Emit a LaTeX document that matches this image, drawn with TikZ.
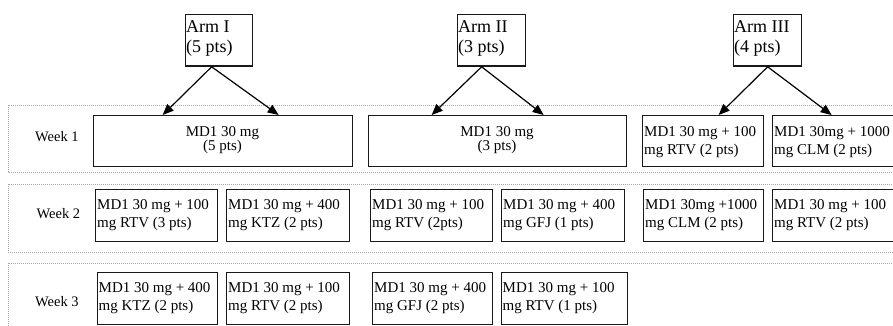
\documentclass[tikz,border=0pt]{standalone}
\usepackage{fontspec}
\setmainfont{Liberation Serif}
\usetikzlibrary{arrows.meta}
\newcommand{\twoline}[2]{\vtop{\hbox{#1}\hbox{#2}}}
\newcommand{\twocenter}[2]{\vtop{\halign{\hfil##\hfil\cr #1\cr #2\cr}}}
\tikzset{
  box/.style={draw=black!90, line width=1.3pt, rectangle, inner sep=0pt, anchor=north west},
  band/.style={draw=black!35, line width=0.9pt, dash pattern=on 1pt off 1pt},
  boxtext/.style={inner sep=0pt, anchor=base west, font=\fontsize{15}{18}\selectfont},
  ctext/.style={inner sep=0pt, anchor=base, font=\fontsize{15}{14.5}\selectfont},
  armtext/.style={inner sep=0pt, anchor=base west, font=\fontsize{18}{20}\selectfont},
  weektext/.style={inner sep=0pt, anchor=base west, font=\fontsize{14.5}{17}\selectfont},
  arr/.style={draw=black, line width=1.2pt, -{Triangle[length=11pt,width=9pt]}}
}
\begin{document}
\begin{tikzpicture}[x=1pt,y=-1pt]
\path[use as bounding box, fill=white] (0,0) rectangle (893,326);
\clip (0,0) rectangle (893,326);

% week bands
\draw[band] (8.3,105) rectangle (920,172);
\draw[band] (8.3,184) rectangle (920,252);
\draw[band] (8.3,263) rectangle (920,340);

% week labels
\node[weektext] (wk1) at (35,141.7) {Week 1};
\node[weektext] (wk2) at (36.5,218.3) {Week 2};
\node[weektext] (wk3) at (35,306.7) {Week 3};

% arm boxes
\node[box, minimum width=67pt, minimum height=51.5pt] (arm1) at (185,14) {};
\node[box, minimum width=68pt, minimum height=51.5pt] (arm2) at (457,14) {};
\node[box, minimum width=68pt, minimum height=51.5pt] (arm3) at (733,14) {};
\node[armtext] (arm1t) at (186,33) {\twoline{Arm I}{(5 pts)}};
\node[armtext] (arm2t) at (458,33) {\twoline{Arm II}{(3 pts)}};
\node[armtext] (arm3t) at (734,33) {\twoline{Arm III}{(4 pts)}};

% week 1 boxes
\node[box, minimum width=259pt, minimum height=51pt] (w1a) at (93,115) {};
\node[box, minimum width=258pt, minimum height=51pt] (w1b) at (368,115) {};
\node[box, minimum width=121pt, minimum height=51pt] (w1c) at (642,115) {};
\node[box, minimum width=128pt, minimum height=51pt] (w1d) at (772,115) {};
\node[ctext] (w1at) at (222.5,136) {\twocenter{MD1 30 mg}{(5 pts)}};
\node[ctext] (w1bt) at (497,136) {\twocenter{MD1 30 mg}{(3 pts)}};
\node[boxtext] (w1ct) at (644,136.5) {\twoline{MD1 30 mg + 100}{mg RTV (2 pts)}};
\node[boxtext] (w1dt) at (774,136.5) {\twoline{MD1 30mg + 1000}{mg CLM (2 pts)}};

% week 2 boxes
\node[box, minimum width=122pt, minimum height=52pt] (w2a) at (95,189) {};
\node[box, minimum width=123pt, minimum height=52pt] (w2b) at (226,189) {};
\node[box, minimum width=122pt, minimum height=52pt] (w2c) at (370,189) {};
\node[box, minimum width=123pt, minimum height=52pt] (w2d) at (501,189) {};
\node[box, minimum width=120pt, minimum height=52pt] (w2e) at (643,189) {};
\node[box, minimum width=128pt, minimum height=52pt] (w2f) at (772,189) {};
\node[boxtext] (w2at) at (97,209.3) {\twoline{MD1 30 mg + 100}{mg RTV (3 pts)}};
\node[boxtext] (w2bt) at (228,209.3) {\twoline{MD1 30 mg + 400}{mg KTZ (2 pts)}};
\node[boxtext] (w2ct) at (372,209.3) {\twoline{MD1 30 mg + 100}{mg RTV (2pts)}};
\node[boxtext] (w2dt) at (503,209.3) {\twoline{MD1 30 mg + 400}{mg GFJ (1 pts)}};
\node[boxtext] (w2et) at (645,209.3) {\twoline{MD1 30mg +1000}{mg CLM (2 pts)}};
\node[boxtext] (w2ft) at (774,209.3) {\twoline{MD1 30 mg + 100}{mg RTV (2 pts)}};

% week 3 boxes
\node[box, minimum width=120pt, minimum height=51.5pt] (w3a) at (96.5,272) {};
\node[box, minimum width=123pt, minimum height=51.5pt] (w3b) at (226,272) {};
\node[box, minimum width=120pt, minimum height=51.5pt] (w3c) at (372,272) {};
\node[box, minimum width=126pt, minimum height=51.5pt] (w3d) at (500.5,272) {};
\node[boxtext] (w3at) at (98.5,292) {\twoline{MD1 30 mg + 400}{mg KTZ (2 pts)}};
\node[boxtext] (w3bt) at (228,292) {\twoline{MD1 30 mg + 100}{mg RTV (2 pts)}};
\node[boxtext] (w3ct) at (374,292) {\twoline{MD1 30 mg + 400}{mg GFJ (2 pts)}};
\node[boxtext] (w3dt) at (502.5,292) {\twoline{MD1 30 mg + 100}{mg RTV (1 pts)}};

% arrows
\draw[arr] ([xshift=-7.5pt]arm1.south) -- ([xshift=-60.5pt]w1a.north);
\draw[arr] ([xshift=-7.5pt]arm1.south) -- ([xshift=55.5pt]w1a.north);
\draw[arr] ([xshift=-10pt]arm2.south) -- ([xshift=-66pt]w1b.north);
\draw[arr] ([xshift=-10pt]arm2.south) -- ([xshift=46pt]w1b.north);
\draw[arr] (arm3.south) -- ([xshift=15.5pt]w1c.north);
\draw[arr] (arm3.south) -- ([xshift=-5pt]w1d.north);
\end{tikzpicture}
\end{document}
